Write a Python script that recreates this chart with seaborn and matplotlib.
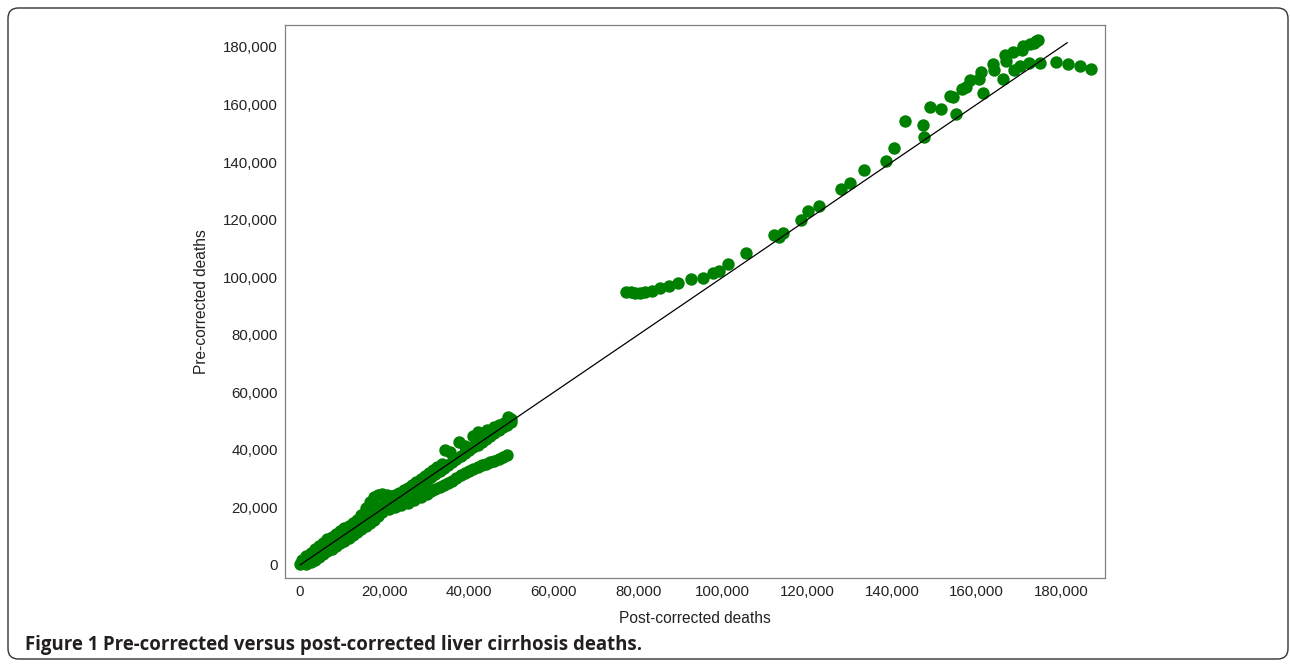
import matplotlib
matplotlib.use('Agg')
import matplotlib.pyplot as plt
from matplotlib.patches import FancyBboxPatch
from matplotlib.ticker import StrMethodFormatter
import pandas as pd
import seaborn as sns

# dense band along the diagonal (0 - 50,000)
main_x = [0, 1000, 2000, 3000, 4000, 5000, 6000, 7000, 8000, 9000,
          10000, 11000, 12000, 13000, 14000, 15000, 16000, 17000, 18000, 19000,
          20000, 21000, 22000, 23000, 24000, 25000, 26000, 27000, 28000, 29000,
          30000, 31000, 32000, 33000, 34000, 35000, 36000, 37000, 38000, 39000,
          40000, 41000, 42000, 43000, 44000, 45000, 46000, 47000, 48000, 49000, 50000]
main_y = [200, 1100, 2300, 3100, 4400, 5200, 6500, 7600, 8400, 9500,
          10600, 11200, 12400, 13300, 14600, 15800, 17200, 18500, 19400, 20300,
          21000, 21600, 22300, 23000, 23600, 24500, 25300, 26400, 27300, 28400,
          29500, 30600, 31600, 32700, 33800, 34900, 35800, 36900, 37800, 38900,
          39800, 40900, 41800, 42900, 43800, 44900, 45700, 46900, 47800, 48800, 49800]

above_x = [500, 1500, 2500, 3500, 4500, 5500, 6500, 7500, 8500, 9500,
           10500, 11500, 12500, 13500, 14500, 15500, 16500, 17500, 18500, 19500,
           20500, 21500, 22500, 23500, 24500, 25500, 26500, 27500, 28500, 29500,
           30500, 31500, 32500, 33500]
above_y = [1600, 3100, 4300, 5400, 6500, 7500, 8900, 9800, 10700, 11800,
           12700, 13500, 14600, 15800, 17500, 19800, 22000, 23600, 24300, 24500,
           24400, 24100, 24300, 24900, 25900, 26900, 27800, 28800, 29800, 30900,
           32000, 33100, 34200, 35200]

below_x = [1500, 2500, 3500, 4500, 5500, 6500, 7500, 8500, 9500, 10500,
           11500, 12500, 13500, 14500, 15500, 16500, 17500, 18500]
below_y = [300, 1100, 1900, 2900, 3800, 4700, 5600, 6600, 7500, 8500,
           9400, 10400, 11400, 12400, 13400, 14500, 15700, 16900]

# lower branch bending away from the line
branch_x = [19500, 21000, 22500, 24000, 25500, 27000, 28500, 30000, 31000, 32000,
            33000, 34000, 35000, 36000, 37000, 38000, 39000, 40000, 41000, 42000,
            43000, 44000, 45000, 46000, 47000, 48000, 49000]
branch_y = [18300, 19300, 20100, 20900, 21700, 22600, 23600, 24800, 25600, 26300,
            27000, 27800, 28500, 29300, 30200, 31100, 31900, 32700, 33500, 34100,
            34700, 35200, 35700, 36200, 36700, 37400, 38200]

top_x = [34300, 35500, 37500, 39000, 41000, 42200, 44200, 45800, 47000, 48200, 49300, 50000]
top_y = [40000, 39200, 42900, 41500, 44800, 46300, 46900, 48000, 48600, 49500, 51500, 50800]

# upper cluster (77,000 - 188,000)
far_x = [77000, 78200, 79300, 80400, 81700, 83300, 85100, 87200, 89450, 92400,
         95200, 97700, 99200, 101200, 105600, 112100, 113300, 114300, 118400, 120200,
         122800, 127900, 130100, 133400, 138700, 140500, 143100, 147250, 147500, 149000,
         151700, 153700, 154350, 155100, 156500, 157600, 158500, 160700, 161000, 161600,
         163800, 164100, 166350, 166800, 167000, 168600, 168950, 170400, 170700, 170900,
         172500, 172700, 173500, 174100, 174500, 175000, 178800, 181700, 184600, 187100]
far_y = [94750, 94750, 94400, 94400, 94850, 95300, 96100, 97050, 98000, 99250,
         99800, 101300, 102300, 104500, 108400, 114700, 114100, 115500, 119800, 123100,
         124600, 130500, 132600, 137100, 140500, 145000, 154200, 152800, 148800, 159000,
         158600, 163000, 162500, 156800, 165400, 166000, 168400, 168700, 171200, 163900,
         174200, 172000, 168700, 177200, 175200, 178300, 172000, 173500, 178800, 180400,
         174300, 181200, 181400, 182200, 182400, 174300, 174800, 174100, 173400, 172300]

line_x = [0, 181500]
line_y = [0, 181500]

ticks = [0, 20000, 40000, 60000, 80000, 100000, 120000, 140000, 160000, 180000]

df = pd.DataFrame({
    'post': main_x + above_x + below_x + branch_x + top_x + far_x,
    'pre': main_y + above_y + below_y + branch_y + top_y + far_y,
})

sns.set_theme(style='white')
plt.rcParams['font.family'] = ['Liberation Sans', 'DejaVu Sans']

fig = plt.figure(figsize=(12.9, 6.64), dpi=100)
ax = fig.add_axes([285 / 1290, 1 - 578 / 664, 820 / 1290, 553 / 664])

sns.scatterplot(data=df, x='post', y='pre', color='#008000', s=80,
                linewidth=0, alpha=1, ax=ax, zorder=2)
ax.plot(line_x, line_y, color='black', lw=0.9, zorder=3)

ax.set_xlim(-3550, 190400)
ax.set_ylim(-4520, 187630)
ax.set_xticks(ticks)
ax.set_yticks(ticks)
ax.xaxis.set_major_formatter(StrMethodFormatter('{x:,.0f}'))
ax.yaxis.set_major_formatter(StrMethodFormatter('{x:,.0f}'))
ax.tick_params(axis='both', length=0, labelsize=10.8, colors='#222222', pad=5)
for sp in ax.spines.values():
    sp.set_color('#808080')
    sp.set_linewidth(0.9)

ax.set_xlabel('Post-corrected deaths', fontsize=11.2, color='#222222', labelpad=9)
ax.set_ylabel('Pre-corrected deaths', fontsize=11.2, color='#222222', labelpad=10)

# frame and caption
frame = FancyBboxPatch((8 / 1290, 5 / 664), 1280 / 1290, 651 / 664,
                       boxstyle='round,pad=0,rounding_size=0.008',
                       mutation_aspect=1290 / 664,
                       transform=fig.transFigure, fill=False,
                       edgecolor='#333333', linewidth=1.0)
fig.patches.append(frame)

cap_font = ['Open Sans', 'DejaVu Sans']
t1 = fig.text(25 / 1290, 1 - 645 / 664, 'Figure 1', fontsize=13.4, fontweight='bold',
              family=cap_font, color='#231f20', va='center', ha='left')
fig.canvas.draw()
bb = t1.get_window_extent()
fig.text(bb.x1 / 1290 + 5 / 1290, 1 - 645 / 664,
         'Pre-corrected versus post-corrected liver cirrhosis deaths.',
         fontsize=13.4, fontweight='bold', family=cap_font, color='#231f20',
         va='center', ha='left')

fig.savefig('out.png', dpi=100)
